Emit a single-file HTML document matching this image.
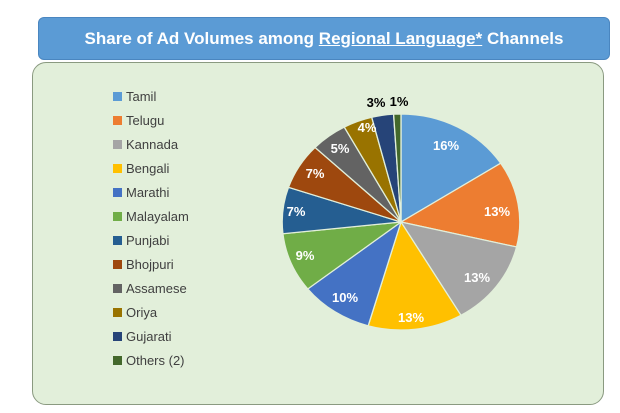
<!DOCTYPE html>
<html><head><style>
body{margin:0;width:620px;height:413px;background:#fff;position:relative;overflow:hidden;font-family:"Liberation Sans",sans-serif}
.title{position:absolute;left:38px;top:17px;width:572px;height:43px;background:#5b9bd5;border-radius:6px;border:1px solid #4a86c0;box-sizing:border-box;color:#fff;font-weight:bold;font-size:17px;text-align:center;line-height:42px}
.panel{position:absolute;left:32px;top:62px;width:572px;height:343px;background:#e2efda;border:1.5px solid #8a9a80;border-radius:14px;box-sizing:border-box}
.leg{position:absolute;left:113px;font-size:13px;color:#404040;line-height:14px}
.leg i{display:inline-block;width:9px;height:9px;margin-right:4px;vertical-align:0}
</style></head><body>
<div class="title">Share of Ad Volumes among <u>Regional Language*</u> Channels</div>
<div class="panel"></div>
<div class="leg" style="top:90px"><i style="background:#5b9bd5"></i>Tamil</div>
<div class="leg" style="top:114px"><i style="background:#ed7d31"></i>Telugu</div>
<div class="leg" style="top:138px"><i style="background:#a5a5a5"></i>Kannada</div>
<div class="leg" style="top:162px"><i style="background:#ffc000"></i>Bengali</div>
<div class="leg" style="top:186px"><i style="background:#4472c4"></i>Marathi</div>
<div class="leg" style="top:210px"><i style="background:#70ad47"></i>Malayalam</div>
<div class="leg" style="top:234px"><i style="background:#255e91"></i>Punjabi</div>
<div class="leg" style="top:258px"><i style="background:#9e480e"></i>Bhojpuri</div>
<div class="leg" style="top:282px"><i style="background:#636363"></i>Assamese</div>
<div class="leg" style="top:306px"><i style="background:#997300"></i>Oriya</div>
<div class="leg" style="top:330px"><i style="background:#264478"></i>Gujarati</div>
<div class="leg" style="top:354px"><i style="background:#43682b"></i>Others (2)</div>
<svg width="620" height="413" style="position:absolute;left:0;top:0">
<g id="pie" transform="translate(401,222) scale(1.1,1)"></g>
<g font-family="Liberation Sans" font-weight="bold" font-size="13" fill="#fff" text-anchor="middle">
<text x="446" y="150">16%</text>
<text x="497" y="216">13%</text>
<text x="477" y="282">13%</text>
<text x="411" y="322">13%</text>
<text x="345" y="302">10%</text>
<text x="305" y="260">9%</text>
<text x="296" y="216">7%</text>
<text x="315" y="178">7%</text>
<text x="340" y="153">5%</text>
<text x="367" y="132">4%</text>
<text x="376" y="107" fill="#000">3%</text>
<text x="399" y="106" fill="#000">1%</text>
</g>
</svg>
<script>
var v=[16,13,13,13,10,9,7,7,5,4,3,1],c=["#5b9bd5","#ed7d31","#a5a5a5","#ffc000","#4472c4","#70ad47","#255e91","#9e480e","#636363","#997300","#264478","#43682b"];
var s=v.reduce((a,b)=>a+b),a=0,r=108,h="";
v.forEach((x,i)=>{var a0=a,a1=a+x/s*2*Math.PI;a=a1;
var p=(t)=>(r*Math.sin(t)).toFixed(2)+","+(-r*Math.cos(t)).toFixed(2);
h+='<path d="M0,0 L'+p(a0)+' A'+r+','+r+' 0 '+(a1-a0>Math.PI?1:0)+' 1 '+p(a1)+' Z" fill="'+c[i]+'" stroke="#e2efda" stroke-width="1.2"/>';});
document.getElementById("pie").innerHTML=h;
</script>
</body></html>
